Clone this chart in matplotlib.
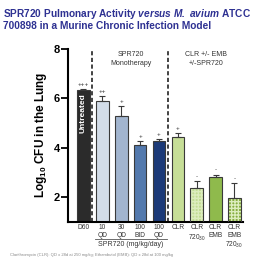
import matplotlib.pyplot as plt
from matplotlib.transforms import blended_transform_factory

plt.rcParams['font.family'] = ['Liberation Sans', 'DejaVu Sans']
plt.rcParams['mathtext.fontset'] = 'custom'
plt.rcParams['mathtext.rm'] = 'Liberation Sans'
plt.rcParams['mathtext.it'] = 'Liberation Sans:italic'
plt.rcParams['mathtext.bf'] = 'Liberation Sans:bold'
plt.rcParams['mathtext.bfit'] = 'Liberation Sans:italic:bold'

# bars, left to right
values = [6.33, 5.89, 5.26, 4.11, 4.27, 4.42, 2.36, 2.83, 1.98]
errors = [0.03, 0.21, 0.44, 0.16, 0.08, 0.18, 0.27, 0.08, 0.57]
marks = ['+++', '++', '+', '+', '+', '+', '-', '-', '-']
colors = ['#2b2b2b', '#d3dde9', '#a2b5cf', '#5379ad', '#1c3a78',
          '#c6de97', '#c2dc93', '#8fba4c', '#86ad3f']
hatched = [False, False, False, False, False, False, True, False, True]
tick_labels = ['D60', '10\nQD', '30\nQD', '100\nBID', '100\nQD',
               'CLR', 'CLR\n720$_{30}$', 'CLR\nEMB', 'CLR\nEMB\n720$_{30}$']

fig = plt.figure(figsize=(2.77, 2.66), dpi=100)
ax = fig.add_axes([0.2455, 0.1665, 0.6315, 0.65])

x = list(range(len(values)))
for i in x:
    if hatched[i]:
        ax.bar(i, values[i] - 1, bottom=1, width=0.67, color=colors[i],
               edgecolor='#dcecbd', hatch='+++++', linewidth=0, zorder=2)
        ax.bar(i, values[i] - 1, bottom=1, width=0.67, fill=False,
               edgecolor='#3a3a3a', linewidth=0.8, zorder=3)
    else:
        ax.bar(i, values[i] - 1, bottom=1, width=0.67, color=colors[i],
               edgecolor='#3a3a3a', linewidth=0.8, zorder=2)
    ax.errorbar(i, values[i], yerr=[[0], [errors[i]]], color='#3a3a3a',
                capsize=2.5, elinewidth=0.8, capthick=0.8, zorder=4)
    ax.text(i, values[i] + errors[i] + 0.08, marks[i], ha='center',
            va='bottom', fontsize=4.5, color='#333333')

ax.text(0, 5.4, 'Untreated', rotation=90, color='white', fontsize=6,
        fontweight='bold', ha='center', va='center', zorder=5)

ax.axvline(0.45, color='#222222', lw=1.2, ls=(0, (2.5, 1.5)), zorder=1)
ax.axvline(4.47, color='#222222', lw=1.2, ls=(0, (2.5, 1.5)), zorder=1)

ax.set_xlim(-0.82, 8.45)
ax.set_ylim(1, 8)
ax.set_yticks([2, 4, 6, 8])
ax.set_yticklabels(['2', '4', '6', '8'], fontweight='bold', fontsize=8)
ax.tick_params(axis='y', length=5, width=1.3, pad=1)
ax.set_xticks([])
for s in ['top', 'right']:
    ax.spines[s].set_visible(False)
ax.spines['left'].set_linewidth(1.5)
ax.spines['bottom'].set_linewidth(1.5)
ax.set_ylabel('Log$_{\\mathbf{10}}$ CFU in the Lung', fontweight='bold',
              fontsize=8.5, labelpad=3)

tr = blended_transform_factory(ax.transData, ax.transAxes)
for i in x:
    ax.text(i, -0.015, tick_labels[i], transform=tr, ha='center', va='top',
            fontsize=4.8, color='#333333', linespacing=1.15)
ax.plot([0.6, 4.45], [-0.10, -0.10], transform=tr, color='#555555', lw=0.6,
        clip_on=False)
ax.text(2.5, -0.112, 'SPR720 (mg/kg/day)', transform=tr, ha='center',
        va='top', fontsize=5, color='#333333')

ax.text(2.5, 0.985, 'SPR720\nMonotherapy', transform=tr, ha='center',
        va='top', fontsize=5, color='#333333', linespacing=1.4)
ax.text(6.5, 0.985, 'CLR +/- EMB\n+/-SPR720', transform=tr, ha='center',
        va='top', fontsize=5, color='#333333', linespacing=1.4)

fig.text(0.012, 0.975, 'SPR720 Pulmonary Activity $\\bfit{versus\\ M.\\ avium}$ ATCC\n700898 in a Murine Chronic Infection Model',
         ha='left', va='top', fontsize=7.3, fontweight='bold', color='#2e3192',
         linespacing=1.0)

fig.text(0.035, 0.04, 'Clarithromycin (CLR): QD x 28d at 250 mg/kg; Ethambutol (EMB): QD x 28d at 100 mg/kg',
         ha='left', va='center', fontsize=3.0, color='#888888')

fig.savefig('out.png', dpi=100)
